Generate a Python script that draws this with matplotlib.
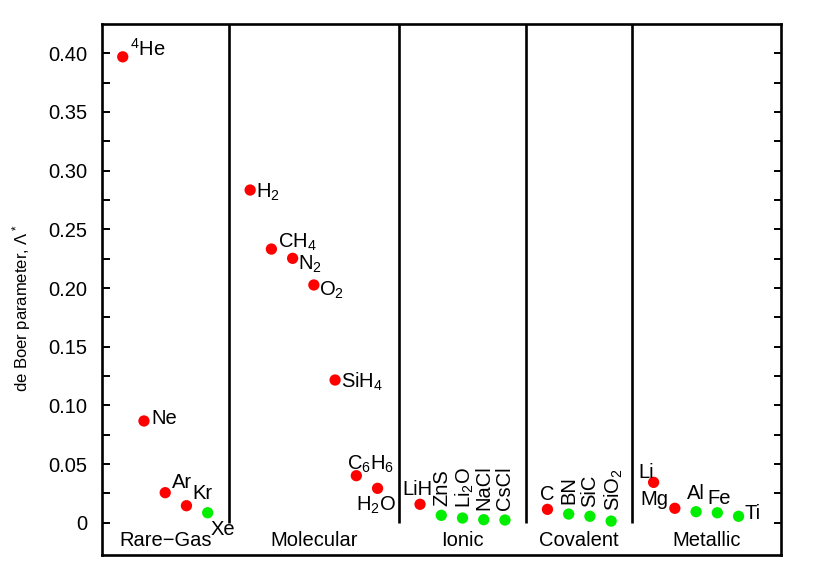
import matplotlib
matplotlib.use("Agg")
import matplotlib.pyplot as plt

plt.rcParams['font.family'] = ['Liberation Sans', 'DejaVu Sans']
plt.rcParams['mathtext.fontset'] = 'custom'
plt.rcParams['mathtext.rm'] = 'Liberation Sans'
plt.rcParams['mathtext.it'] = 'Liberation Sans:italic'
plt.rcParams['mathtext.default'] = 'regular'

# ---- data ----
names = ["$^4$He", "Ne", "Ar", "Kr", "Xe",
         "H$_2$", "CH$_4$", "N$_2$", "O$_2$", "SiH$_4$", "C$_6$H$_6$", "H$_2$O",
         "LiH", "ZnS", "Li$_2$O", "NaCl", "CsCl",
         "C", "BN", "SiC", "SiO$_2$",
         "Li", "Mg", "Al", "Fe", "Ti"]
xpos = [1, 2, 3, 4, 5,
        7, 8, 9, 10, 11, 12, 13,
        15, 16, 17, 18, 19,
        21, 22, 23, 24,
        26, 27, 28, 29, 30]
values = [0.397, 0.0867, 0.0256, 0.0145, 0.0085,
          0.2835, 0.2332, 0.2253, 0.2026, 0.1216, 0.0401, 0.0293,
          0.0157, 0.0063, 0.0040, 0.0026, 0.0023,
          0.0114, 0.0074, 0.0055, 0.0014,
          0.0344, 0.0123, 0.0094, 0.0085, 0.0055]
green = [False, False, False, False, True,
         False, False, False, False, False, False, False,
         False, True, True, True, True,
         False, True, True, True,
         False, False, True, True, True]
groups = ["Rare\u2212Gas", "Molecular", "Ionic", "Covalent", "Metallic"]
separators = [6, 14, 20, 25]
xlim = (0, 32)
ylim = (-0.0275, 0.425)
yticks = [0, 0.05, 0.10, 0.15, 0.20, 0.25, 0.30, 0.35, 0.40]
yticklabels = ["0", "0.05", "0.10", "0.15", "0.20", "0.25", "0.30", "0.35", "0.40"]

# ---- label styles (offsets in points, alignment, rotation) ----
lab_style = {
    "$^4$He": (5, 6, 'left', 'center', 0),
    "Ne": (5, 1.5, 'left', 'center', 0),
    "Ar": (4.5, 7, 'left', 'center', 0),
    "Kr": (4.5, 8.5, 'left', 'center', 0),
    "Xe": (2, -12, 'left', 'center', 0),
    "H$_2$": (4.5, -2, 'left', 'center', 0),
    "CH$_4$": (4.5, 5, 'left', 'center', 0),
    "N$_2$": (4, -4, 'left', 'center', 0),
    "O$_2$": (4, -4, 'left', 'center', 0),
    "SiH$_4$": (4.5, -1, 'left', 'center', 0),
    "C$_6$H$_6$": (10, 8, 'center', 'center', 0),
    "H$_2$O": (-1.5, -12, 'center', 'center', 0),
    "LiH": (-2, 11, 'center', 'center', 0),
    "ZnS": (0.5, 7, 'center', 'bottom', 90),
    "Li$_2$O": (1.5, 7, 'center', 'bottom', 90),
    "NaCl": (0, 7, 'center', 'bottom', 90),
    "CsCl": (0, 7, 'center', 'bottom', 90),
    "C": (0, 10.5, 'center', 'center', 0),
    "BN": (0, 7, 'center', 'bottom', 90),
    "SiC": (0, 7, 'center', 'bottom', 90),
    "SiO$_2$": (2, 7, 'center', 'bottom', 90),
    "Li": (0, 7, 'right', 'center', 0),
    "Mg": (-5, 6, 'right', 'center', 0),
    "Al": (0, 13, 'center', 'center', 0),
    "Fe": (1.5, 10, 'center', 'center', 0),
    "Ti": (4.5, 2, 'left', 'center', 0),
}

fig = plt.figure(figsize=(8.3, 5.81), dpi=100)
ax = fig.add_axes([0.1223, 0.04475, 0.8187, 0.9140])

colors = ['#00ee00' if g else '#ff0000' for g in green]
ax.scatter(xpos, values, s=66, c=colors, edgecolors='none', zorder=3)

for n, x, y in zip(names, xpos, values):
    dx, dy, ha, va, rot = lab_style[n]
    ax.annotate(n, (x, y), xytext=(dx, dy), textcoords='offset points',
                ha=ha, va=va, rotation=rot, fontsize=14.5, color='black')

for s in separators:
    ax.plot([s, s], [0, ylim[1]], color='black', lw=1.9, zorder=2,
            solid_capstyle='butt')

ax.set_xlim(*xlim)
ax.set_ylim(*ylim)

bounds = [xlim[0]] + separators + [xlim[1]]
for i, g in enumerate(groups):
    ax.text((bounds[i] + bounds[i + 1]) / 2, -0.0155, g, ha='center', va='center',
            fontsize=14.5)

ax.set_xticks([])
ax.set_yticks(yticks)
ax.set_yticklabels(yticklabels, fontsize=14.5)
ax.set_yticks([0.025 + 0.05 * i for i in range(8)], minor=True)
ax.tick_params(axis='y', which='both', direction='in', left=True, right=True,
               length=5.4, width=1.4, pad=10)

for sp in ax.spines.values():
    sp.set_linewidth(1.9)

ax.set_ylabel("de Boer parameter, \u039b$^*$", fontsize=12, va='center')
ax.yaxis.set_label_coords(-0.118, 0.465)

fig.savefig("out.png", dpi=100)
